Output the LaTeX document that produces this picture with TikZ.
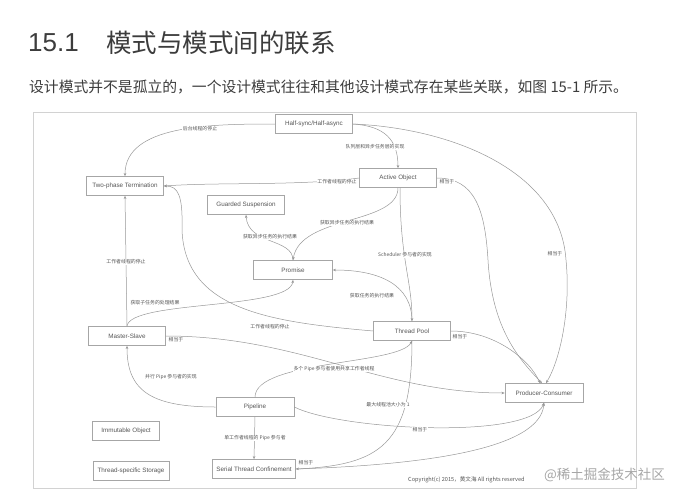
\documentclass[tikz,border=0pt]{standalone}
\usepackage{fontspec}
\setmainfont{Liberation Sans}
\newfontfamily\cjk{Noto Sans CJK SC}
\usetikzlibrary{arrows.meta}

\definecolor{framegray}{HTML}{D2D2D2}
\definecolor{boxgray}{HTML}{A6A6A6}
\definecolor{linegray}{HTML}{979797}
\definecolor{txtgray}{HTML}{555555}
\definecolor{titlegray}{HTML}{3C3C3C}

\tikzset{
    pat/.style={draw=boxgray, line width=0.6pt, minimum width=77pt, minimum height=19pt,
        inner sep=0pt, text=txtgray, font=\fontsize{6.3}{7}\selectfont},
    lbl/.style={fill=white, inner sep=0.4pt, text=txtgray, font=\cjk\fontsize{4.9}{5.5}\selectfont},
    rel/.style={draw=linegray, line width=0.5pt, -{Stealth[length=3.2pt,width=2.6pt]}},
}

\begin{document}
\begin{tikzpicture}[x=1pt,y=-1pt]
    \useasboundingbox (0,0) rectangle (689,499);

    % heading and intro line
    \node[anchor=west, inner sep=0pt, text=titlegray, font=\fontsize{26}{30}\selectfont] (secno) at (28,43) {15.1};
    \node[anchor=west, inner sep=0pt, text=titlegray, font=\cjk\fontsize{25.5}{30}\selectfont] (sectitle) at (106,43) {模式与模式间的联系};
    \node[anchor=west, inner sep=0pt, text=titlegray, font=\cjk\fontsize{14.8}{18}\selectfont] (intro) at (29,87)
        {设计模式并不是孤立的，一个设计模式往往和其他设计模式存在某些关联，如图 15-1 所示。};

    % figure frame
    \draw[framegray, line width=0.8pt] (33,112) rectangle (636,488);

    % patterns
    \node[pat] (hsha) at (314,124) {Half-sync/Half-async};
    \node[pat] (tpt)  at (125,186) {Two-phase Termination};
    \node[pat] (ao)   at (398,178) {Active Object};
    \node[pat] (gs)   at (246,205) {Guarded Suspension};
    \node[pat, minimum width=79pt] (prom) at (293,270) {Promise};
    \node[pat] (ms)   at (127,336) {Master-Slave};
    \node[pat] (tp)   at (412,331) {Thread Pool};
    \node[pat, minimum width=78pt] (pc) at (544,393) {Producer-Consumer};
    \node[pat, minimum width=78pt] (pipe) at (255,407) {Pipeline};
    \node[pat, minimum width=67pt] (imm) at (126,431) {Immutable Object};
    \node[pat, minimum width=76pt] (tss) at (131,471) {Thread-specific Storage};
    \node[pat, minimum width=83pt] (stc) at (254,469) {Serial Thread Confinement};

    % relations
    \draw[rel] (hsha.west) .. controls (210,124) and (125,125) .. (tpt.north);
    \draw[rel] (hsha.east) .. controls (385,126) and (398,140) .. (ao.north);
    \draw[rel] (hsha.east) .. controls (450,128) and (560,170) .. (566,260)
        .. controls (571,310) and (560,360) .. ([xshift=2pt]pc.north);
    \draw[rel] (ao.west) .. controls (300,186) and (220,182) .. (tpt.east);
    \draw[rel] (ao.east) .. controls (475,178) and (485,210) .. (488,260)
        .. controls (492,330) and (520,360) .. ([xshift=-2pt]pc.north);
    \draw[rel] (ao.south) .. controls (398,225) and (300,215) .. (prom.north);
    \draw[rel] ([xshift=2pt]ao.south) .. controls (400,260) and (412,280) .. (tp.north);
    \draw[rel] (prom.north) .. controls (293,238) and (248,245) .. (gs.south);
    \draw[rel] (tp.north) .. controls (412,285) and (380,270) .. (prom.east);
    \draw[rel] (tp.west) .. controls (270,322) and (185,310) .. (182,230)
        .. controls (183,195) and (178,186) .. (tpt.east);
    \draw[rel] (tp.east) .. controls (495,331) and (530,360) .. ([xshift=-4pt]pc.north);
    \draw[rel] (ms.north) -- (tpt.south);
    \draw[rel] (ms.north) .. controls (130,300) and (290,310) .. (prom.south);
    \draw[rel] (ms.east) .. controls (300,336) and (380,393) .. (pc.west);
    \draw[rel] (pipe.west) .. controls (150,407) and (127,390) .. (ms.south);
    \draw[rel] (pipe.north) .. controls (255,360) and (400,365) .. (tp.south);
    \draw[rel] (tp.south) .. controls (412,445) and (380,465) .. (stc.east);
    \draw[rel] (pipe.south) -- (stc.north);
    \draw[rel] (pipe.east) .. controls (340,430) and (530,440) .. (pc.south);
    \draw[rel] (stc.east) .. controls (420,465) and (540,450) .. (pc.south);

    % relation labels
    \node[lbl] (l1)  at (200,129) {后台线程的停止};
    \node[lbl] (l2)  at (375,147) {队列层和异步任务层的实现};
    \node[lbl] (l3)  at (555,254) {相当于};
    \node[lbl] (l4)  at (337,182) {工作者线程的停止};
    \node[lbl] (l5)  at (447,182) {相当于};
    \node[lbl] (l6)  at (347,223) {获取异步任务的执行结果};
    \node[lbl] (l7)  at (405,255) {Scheduler 参与者的实现};
    \node[lbl] (l8)  at (270,237) {获取异步任务的执行结果};
    \node[lbl] (l9)  at (372,296) {获取任务的执行结果};
    \node[lbl] (l10) at (270,327) {工作者线程的停止};
    \node[lbl] (l11) at (460,337) {相当于};
    \node[lbl] (l12) at (126,262) {工作者线程的停止};
    \node[lbl] (l13) at (155,303) {获取子任务的处理结果};
    \node[lbl] (l14) at (176,340) {相当于};
    \node[lbl] (l15) at (171,377) {并行 Pipe 参与者的实现};
    \node[lbl] (l16) at (334,369) {多个 Pipe 参与者使用共享工作者线程};
    \node[lbl] (l17) at (388,405) {最大线程池大小为 1};
    \node[lbl] (l18) at (255,438) {单工作者线程的 Pipe 参与者};
    \node[lbl] (l19) at (420,430) {相当于};
    \node[lbl] (l20) at (306,463) {相当于};

    % footer
    \node[anchor=west, inner sep=0pt, text=txtgray, font=\cjk\fontsize{5.6}{6}\selectfont] (copy) at (408,480)
        {Copyright(c) 2015，黄文海 All rights reserved};
    \node[anchor=west, inner sep=0pt, text=black!35, font=\cjk\fontsize{13.5}{15}\selectfont] (mark) at (544,475)
        {@稀土掘金技术社区};
\end{tikzpicture}
\end{document}
